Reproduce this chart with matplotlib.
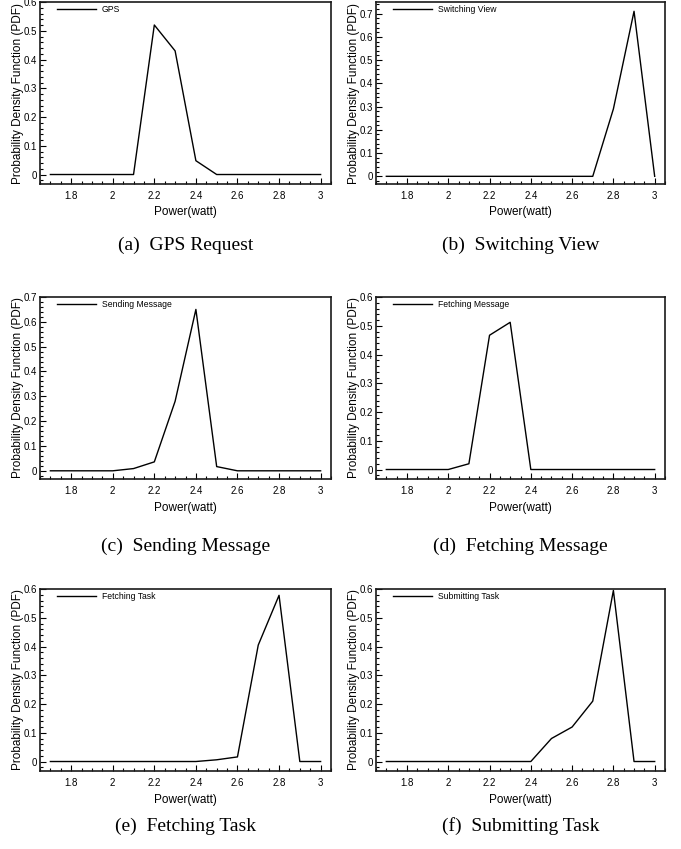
import matplotlib
matplotlib.use("Agg")
import matplotlib.pyplot as plt
from matplotlib.ticker import MultipleLocator, FuncFormatter

# power levels (watt), sampled every 0.1
power = [1.7, 1.8, 1.9, 2.0, 2.1, 2.2, 2.3, 2.4, 2.5, 2.6, 2.7, 2.8, 2.9, 3.0]

gps_pdf = [0, 0, 0, 0, 0, 0.52, 0.43, 0.048, 0, 0, 0, 0, 0, 0]
switching_pdf = [0, 0, 0, 0, 0, 0, 0, 0, 0, 0, 0, 0.29, 0.71, 0]
sending_pdf = [0, 0, 0, 0, 0.009, 0.036, 0.28, 0.65, 0.017, 0, 0, 0, 0, 0]
fetch_msg_pdf = [0, 0, 0, 0, 0.02, 0.467, 0.512, 0, 0, 0, 0, 0, 0, 0]
fetch_task_pdf = [0, 0, 0, 0, 0, 0, 0, 0, 0.006, 0.016, 0.405, 0.578, 0, 0]
submit_pdf = [0, 0, 0, 0, 0, 0, 0, 0, 0.08, 0.12, 0.21, 0.595, 0, 0]

legend_names = ["GPS", "Switching View", "Sending Message",
                "Fetching Message", "Fetching Task", "Submitting Task"]
captions = ["(a)  GPS Request", "(b)  Switching View", "(c)  Sending Message",
            "(d)  Fetching Message", "(e)  Fetching Task", "(f)  Submitting Task"]
y_tops = [0.6, 0.75, 0.7, 0.6, 0.6, 0.6]

series = [gps_pdf, switching_pdf, sending_pdf, fetch_msg_pdf, fetch_task_pdf, submit_pdf]

plt.rcParams["font.family"] = ["Liberation Sans", "DejaVu Sans"]

fig = plt.figure(figsize=(6.81, 8.49), dpi=100)

col_left = [40 / 681, 376 / 681]
col_width = [291 / 681, 289 / 681]
row_bottom = [1 - 184 / 849, 1 - 479 / 849, 1 - 771 / 849]
row_height = 182 / 849
caption_y = [1 - 245 / 849, 1 - 546 / 849, 1 - 826 / 849]

tick_fmt = FuncFormatter(lambda v, pos: "%g" % round(v, 3))

for i, data in enumerate(series):
    r, c = divmod(i, 2)
    ax = fig.add_axes([col_left[c], row_bottom[r], col_width[c], row_height])
    ax.plot(power, data, color="black", linewidth=1.0, label=legend_names[i])

    ax.set_xlim(1.65, 3.05)
    ax.set_ylim(-0.033, y_tops[i])
    ax.set_xticks([1.8, 2.0, 2.2, 2.4, 2.6, 2.8, 3.0])
    ax.xaxis.set_minor_locator(MultipleLocator(0.05))
    ax.yaxis.set_major_locator(MultipleLocator(0.1))
    ax.yaxis.set_minor_locator(MultipleLocator(0.02))
    ax.xaxis.set_major_formatter(tick_fmt)
    ax.yaxis.set_major_formatter(tick_fmt)

    ax.tick_params(which="both", direction="in", top=False, right=False,
                   labelsize=7, width=0.8)
    ax.tick_params(which="major", length=4, pad=5)
    ax.tick_params(axis="y", which="major", pad=2)
    ax.tick_params(which="minor", length=2)
    for sp in ax.spines.values():
        sp.set_linewidth(1.2)
        sp.set_color("#1a1a1a")

    ax.set_xlabel("Power(watt)", fontsize=8.5, labelpad=4)
    ax.set_ylabel("Probability Density Function (PDF)", fontsize=8.5, labelpad=0)

    ax.legend(loc="upper left", frameon=False, fontsize=6.2, handlelength=4.6,
              handletextpad=0.6, borderpad=0, borderaxespad=0,
              bbox_to_anchor=(0.058, 0.985))

    fig.text(col_left[c] + col_width[c] / 2, caption_y[r], captions[i],
             ha="center", va="center", fontsize=14,
             family=["Liberation Serif", "DejaVu Serif"])

fig.savefig("out.png", dpi=100)
